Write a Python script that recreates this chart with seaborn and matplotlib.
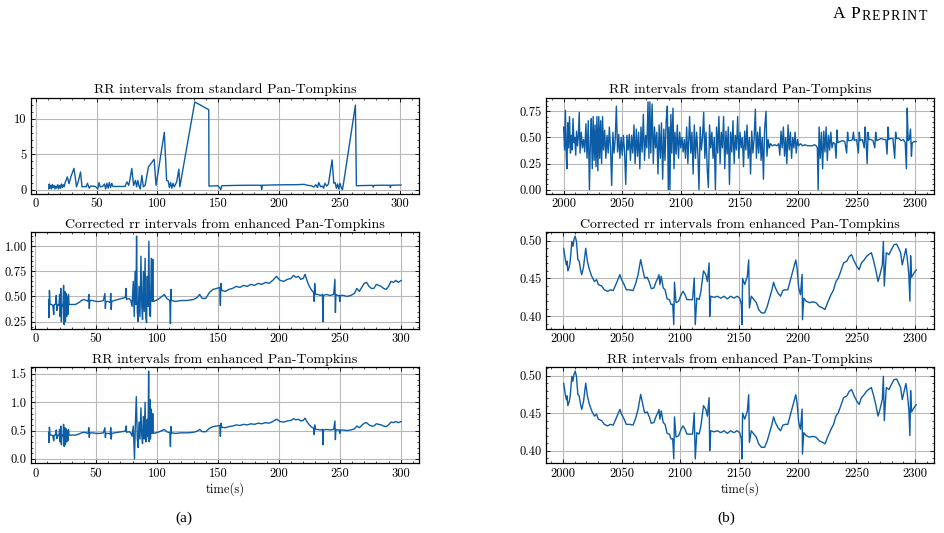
import matplotlib
matplotlib.use("Agg")
import matplotlib.pyplot as plt
import seaborn as sns
from matplotlib.text import Annotation
from matplotlib.ticker import MultipleLocator, AutoMinorLocator

# (a) 0-300 s, RR intervals from standard Pan-Tompkins
t_std_a = [
    10.5, 11.0, 11.6, 12.2, 12.9, 13.5, 14.2, 15.0, 15.7, 16.4,
    17.2, 18.0, 18.8, 19.5, 20.3, 21.0, 21.8, 22.5, 23.3, 24.0,
    25.9, 27.3, 29.0, 31.4, 33.5, 35.0, 36.8, 38.0, 40.0, 41.5,
    42.5, 44.0, 45.0, 47.0, 49.0, 51.0, 52.0, 53.0, 55.0, 56.5,
    57.5, 58.5, 59.5, 60.5, 61.5, 62.5, 63.5, 66.0, 70.0, 73.5,
    75.0, 76.5, 77.5, 79.0, 80.5, 82.0, 83.0, 84.0, 85.0, 86.0,
    87.3, 88.5, 90.0, 92.7, 97.4, 99.0, 105.8, 107.7, 109.0, 110.0,
    111.0, 112.0, 113.0, 114.0, 116.0, 117.8, 118.6, 130.9, 142.4, 142.6,
    150.0, 152.4, 153.0, 165.0, 175.0, 185.5, 186.0, 186.5, 200.0, 215.0,
    220.9, 224.0, 227.0, 229.0, 230.5, 232.0, 233.0, 234.5, 236.0, 237.0,
    238.0, 239.5, 241.0, 244.0, 245.4, 246.5, 247.5, 248.5, 249.5, 250.5,
    251.5, 252.5, 253.5, 263.2, 264.0, 270.0, 277.5, 278.0, 278.5, 285.0,
    291.5, 292.0, 292.5, 301.0,
]
rr_std_a = [
    0.1, 0.8, 0.2, 0.6, 0.1, 0.7, 0.3, 0.6, 0.1, 0.5,
    0.2, 0.7, 0.1, 0.6, 0.2, 0.8, 0.3, 0.7, 0.4, 0.9,
    1.8, 0.85, 1.9, 3.0, 0.4, 1.2, 2.5, 0.4, 0.45, 0.4,
    0.9, 0.2, 0.5, 0.5, 0.45, 0.1, 1.0, 0.4, 0.45, 0.8,
    0.1, 0.9, 0.2, 1.0, 0.3, 0.9, 0.45, 0.45, 0.45, 0.45,
    1.1, 0.6, 1.4, 3.0, 0.6, 1.3, 0.4, 1.3, 0.5, 0.1,
    2.0, 0.4, 0.6, 3.2, 4.3, 0.6, 8.1, 1.3, 1.2, 0.3,
    1.0, 0.2, 0.9, 0.4, 1.1, 2.9, 0.4, 12.4, 11.3, 0.5,
    0.55, 0.0, 0.55, 0.6, 0.62, 0.62, 0.05, 0.62, 0.68, 0.7,
    0.75, 0.6, 0.55, 0.35, 0.7, 0.3, 1.0, 0.4, 0.5, 0.2,
    0.9, 0.5, 0.8, 4.2, 0.9, 1.0, 0.2, 0.8, 0.1, 0.9,
    0.3, 0.0, 1.0, 11.95, 0.55, 0.58, 0.6, 0.35, 0.6, 0.62,
    0.62, 0.3, 0.62, 0.65,
]

# (a) corrected rr intervals from enhanced Pan-Tompkins
t_corr_a = [
    11.0, 11.3, 11.7, 12.2, 13.5, 14.5, 15.2, 15.6, 16.8, 17.3,
    17.8, 18.5, 19.5, 20.0, 20.5, 21.0, 21.5, 22.0, 22.8, 23.3,
    23.8, 24.3, 24.8, 25.3, 25.8, 26.3, 26.8, 27.3, 27.8, 30.0,
    33.0, 36.0, 38.0, 40.0, 42.0, 43.5, 44.0, 44.4, 44.8, 47.0,
    50.0, 53.0, 56.0, 57.2, 57.6, 58.0, 60.0, 61.6, 62.0, 62.4,
    62.8, 65.0, 68.0, 71.0, 74.0, 74.6, 75.0, 77.0, 78.5, 79.5,
    80.5, 81.3, 82.0, 82.7, 83.2, 83.8, 84.5, 85.2, 86.0, 86.8,
    87.5, 88.1, 88.8, 89.5, 90.2, 90.8, 91.4, 92.0, 92.6, 93.3,
    93.9, 94.6, 95.3, 96.0, 96.5, 97.0, 99.0, 102.0, 104.0, 106.0,
    108.0, 110.5, 111.0, 111.4, 111.8, 115.0, 120.0, 125.0, 130.0, 133.0,
    135.0, 137.0, 140.0, 143.0, 146.0, 149.0, 151.5, 152.0, 152.4, 153.0,
    156.0, 159.0, 162.0, 165.0, 168.0, 171.0, 174.0, 177.0, 180.0, 183.0,
    186.0, 189.0, 192.0, 195.0, 198.0, 201.0, 204.0, 207.0, 210.0, 212.0,
    214.0, 216.0, 218.0, 220.0, 221.5, 223.0, 225.0, 227.0, 228.5, 229.0,
    229.4, 230.0, 232.0, 234.0, 235.8, 236.2, 236.6, 239.0, 242.0, 245.0,
    246.0, 246.4, 246.8, 248.0, 249.6, 250.0, 250.4, 253.0, 256.0, 259.0,
    262.0, 264.0, 266.0, 268.0, 270.0, 272.0, 274.0, 276.0, 278.0, 280.0,
    282.0, 284.0, 286.0, 288.0, 290.0, 292.0, 294.0, 296.0, 298.0, 300.5,
]
rr_corr_a = [
    0.47, 0.29, 0.56, 0.42, 0.42, 0.41, 0.32, 0.42, 0.42, 0.51,
    0.36, 0.42, 0.41, 0.52, 0.30, 0.58, 0.25, 0.42, 0.40, 0.61,
    0.22, 0.55, 0.25, 0.53, 0.30, 0.50, 0.32, 0.52, 0.42, 0.42,
    0.42, 0.44, 0.46, 0.47, 0.46, 0.45, 0.52, 0.38, 0.46, 0.46,
    0.45, 0.45, 0.46, 0.53, 0.38, 0.45, 0.45, 0.44, 0.53, 0.37,
    0.45, 0.46, 0.47, 0.48, 0.49, 0.58, 0.47, 0.48, 0.46, 0.40,
    0.65, 0.30, 0.75, 0.42, 1.10, 0.35, 0.25, 0.60, 0.30, 0.90,
    0.40, 0.27, 0.75, 0.35, 0.88, 0.30, 0.24, 0.70, 0.40, 1.05,
    0.32, 0.30, 0.88, 0.45, 0.87, 0.45, 0.46, 0.48, 0.50, 0.52,
    0.48, 0.46, 0.23, 0.57, 0.46, 0.45, 0.46, 0.46, 0.47, 0.49,
    0.52, 0.48, 0.48, 0.54, 0.57, 0.58, 0.59, 0.41, 0.63, 0.56,
    0.55, 0.57, 0.58, 0.60, 0.59, 0.61, 0.60, 0.62, 0.61, 0.63,
    0.62, 0.64, 0.63, 0.66, 0.70, 0.66, 0.65, 0.67, 0.68, 0.71,
    0.69, 0.70, 0.67, 0.68, 0.72, 0.66, 0.60, 0.56, 0.54, 0.45,
    0.63, 0.52, 0.52, 0.51, 0.52, 0.25, 0.51, 0.52, 0.51, 0.52,
    0.67, 0.34, 0.52, 0.51, 0.51, 0.45, 0.51, 0.51, 0.50, 0.51,
    0.53, 0.58, 0.55, 0.59, 0.63, 0.64, 0.60, 0.58, 0.58, 0.62,
    0.61, 0.60, 0.58, 0.57, 0.60, 0.65, 0.64, 0.66, 0.64, 0.66,
]

# (a) RR intervals from enhanced Pan-Tompkins
t_enh_a = [
    11.0, 11.3, 11.7, 12.2, 13.5, 14.5, 15.2, 15.6, 16.8, 17.3,
    17.8, 18.5, 19.5, 20.0, 20.5, 21.0, 21.5, 22.0, 22.8, 23.3,
    23.8, 24.3, 24.8, 25.3, 25.8, 26.3, 26.8, 27.3, 27.8, 30.0,
    33.0, 36.0, 38.0, 40.0, 42.0, 43.5, 44.0, 44.4, 44.8, 47.0,
    50.0, 53.0, 56.0, 57.2, 57.6, 58.0, 60.0, 61.6, 62.0, 62.4,
    62.8, 65.0, 68.0, 71.0, 74.0, 74.6, 75.0, 77.0, 78.5, 79.5,
    80.5, 81.5, 82.2, 83.0, 83.8, 84.5, 85.2, 86.0, 86.8, 87.5,
    88.1, 88.8, 89.5, 90.2, 90.8, 91.4, 92.0, 92.6, 93.1, 93.6,
    94.1, 94.6, 95.3, 96.0, 96.5, 97.0, 99.0, 102.0, 104.0, 106.0,
    108.0, 110.5, 111.0, 111.4, 111.8, 115.0, 120.0, 125.0, 130.0, 133.0,
    135.0, 137.0, 140.0, 143.0, 146.0, 149.0, 151.5, 152.0, 152.4, 153.0,
    156.0, 159.0, 162.0, 165.0, 168.0, 171.0, 174.0, 177.0, 180.0, 183.0,
    186.0, 189.0, 192.0, 195.0, 198.0, 201.0, 204.0, 207.0, 210.0, 212.0,
    214.0, 216.0, 218.0, 220.0, 221.5, 223.0, 225.0, 227.0, 228.5, 229.0,
    229.4, 230.0, 232.0, 234.0, 235.8, 236.2, 236.6, 239.0, 242.0, 245.0,
    246.0, 246.4, 246.8, 248.0, 249.6, 250.0, 250.4, 253.0, 256.0, 259.0,
    262.0, 264.0, 266.0, 268.0, 270.0, 272.0, 274.0, 276.0, 278.0, 280.0,
    282.0, 284.0, 286.0, 288.0, 290.0, 292.0, 294.0, 296.0, 298.0, 300.5,
]
rr_enh_a = [
    0.47, 0.29, 0.56, 0.42, 0.42, 0.41, 0.32, 0.42, 0.42, 0.51,
    0.36, 0.42, 0.41, 0.52, 0.30, 0.58, 0.25, 0.42, 0.40, 0.61,
    0.22, 0.55, 0.25, 0.53, 0.30, 0.50, 0.32, 0.52, 0.42, 0.42,
    0.42, 0.44, 0.46, 0.47, 0.46, 0.45, 0.55, 0.38, 0.46, 0.46,
    0.45, 0.45, 0.46, 0.55, 0.38, 0.45, 0.45, 0.44, 0.55, 0.35,
    0.45, 0.46, 0.47, 0.48, 0.49, 0.58, 0.47, 0.48, 0.46, 0.40,
    0.58, 0.00, 0.60, 1.10, 0.35, 0.20, 0.65, 0.35, 0.90, 0.40,
    0.27, 0.75, 0.35, 1.00, 0.30, 0.35, 0.70, 0.40, 1.55, 0.30,
    1.05, 0.35, 0.88, 0.45, 0.80, 0.45, 0.46, 0.48, 0.50, 0.52,
    0.48, 0.46, 0.22, 0.57, 0.46, 0.45, 0.46, 0.46, 0.47, 0.49,
    0.52, 0.48, 0.48, 0.54, 0.57, 0.58, 0.59, 0.40, 0.63, 0.56,
    0.55, 0.57, 0.58, 0.60, 0.59, 0.61, 0.60, 0.62, 0.61, 0.63,
    0.62, 0.64, 0.63, 0.66, 0.70, 0.66, 0.65, 0.67, 0.68, 0.71,
    0.69, 0.70, 0.67, 0.68, 0.72, 0.66, 0.60, 0.56, 0.54, 0.43,
    0.60, 0.52, 0.52, 0.51, 0.52, 0.25, 0.51, 0.52, 0.51, 0.52,
    0.67, 0.34, 0.52, 0.51, 0.51, 0.45, 0.51, 0.51, 0.50, 0.51,
    0.53, 0.58, 0.55, 0.59, 0.63, 0.64, 0.60, 0.58, 0.58, 0.62,
    0.61, 0.60, 0.58, 0.57, 0.60, 0.65, 0.64, 0.66, 0.64, 0.66,
]

# (b) 2000-2300 s, RR intervals from standard Pan-Tompkins
t_std_b = [
    2000.0, 2000.8, 2001.5, 2002.3, 2002.8, 2003.5, 2004.2, 2005.0, 2005.8, 2006.5,
    2007.3, 2008.0, 2008.8, 2009.5, 2010.3, 2011.0, 2011.8, 2012.5, 2013.3, 2014.0,
    2015.0, 2016.0, 2017.0, 2018.0, 2019.0, 2020.0, 2021.0, 2022.0, 2022.8, 2023.6,
    2024.4, 2025.2, 2026.0, 2026.8, 2027.6, 2028.4, 2029.2, 2030.0, 2030.8, 2031.6,
    2032.4, 2033.2, 2034.0, 2035.0, 2036.0, 2037.0, 2038.0, 2039.0, 2040.0, 2041.0,
    2042.0, 2043.0, 2044.0, 2045.0, 2046.0, 2047.0, 2048.0, 2049.0, 2050.0, 2051.0,
    2052.0, 2053.0, 2054.0, 2055.0, 2056.0, 2057.0, 2058.0, 2059.0, 2060.0, 2061.0,
    2062.0, 2063.0, 2064.0, 2065.0, 2066.0, 2067.0, 2068.0, 2069.0, 2070.0, 2071.0,
    2072.0, 2072.8, 2073.6, 2074.4, 2075.5, 2076.5, 2077.5, 2078.5, 2079.5, 2080.5,
    2081.5, 2082.5, 2083.5, 2084.5, 2085.5, 2086.5, 2087.5, 2088.5, 2089.3, 2090.0,
    2090.7, 2091.5, 2092.3, 2093.3, 2094.2, 2095.0, 2096.0, 2097.0, 2098.0, 2099.0,
    2100.0, 2101.0, 2102.0, 2103.0, 2104.0, 2105.0, 2106.0, 2107.5, 2108.5, 2109.5,
    2110.5, 2111.5, 2112.5, 2113.5, 2114.5, 2115.5, 2116.5, 2117.5, 2118.5, 2119.5,
    2120.5, 2121.5, 2122.5, 2123.5, 2124.5, 2125.5, 2126.5, 2127.5, 2128.5, 2129.5,
    2130.5, 2131.5, 2132.5, 2133.5, 2134.5, 2135.5, 2136.5, 2137.5, 2138.5, 2139.5,
    2140.5, 2141.5, 2142.5, 2143.5, 2144.5, 2145.5, 2146.5, 2147.5, 2148.5, 2149.5,
    2150.5, 2151.5, 2152.5, 2153.5, 2154.5, 2155.5, 2156.5, 2157.5, 2158.5, 2159.5,
    2160.5, 2161.5, 2162.5, 2163.6, 2164.5, 2165.5, 2166.5, 2167.5, 2168.5, 2169.5,
    2170.5, 2171.5, 2172.7, 2173.5, 2174.5, 2175.5, 2176.5, 2178.0, 2180.0, 2182.0,
    2183.5, 2184.5, 2185.5, 2186.5, 2187.5, 2188.5, 2189.5, 2190.5, 2191.5, 2192.5,
    2193.5, 2194.5, 2195.5, 2196.5, 2197.5, 2198.5, 2199.5, 2200.5, 2202.0, 2204.0,
    2206.0, 2208.0, 2210.0, 2212.0, 2214.0, 2215.5, 2216.5, 2217.2, 2218.0, 2219.0,
    2220.0, 2221.0, 2222.0, 2223.0, 2224.0, 2225.0, 2226.0, 2227.0, 2228.0, 2229.0,
    2230.0, 2231.5, 2232.5, 2233.2, 2234.0, 2236.0, 2238.0, 2240.0, 2241.5, 2242.3,
    2243.0, 2245.0, 2246.5, 2247.3, 2248.0, 2250.0, 2251.5, 2252.3, 2253.0, 2255.0,
    2256.5, 2257.3, 2258.0, 2259.0, 2259.8, 2260.5, 2262.0, 2264.0, 2265.5, 2266.3,
    2267.0, 2269.0, 2271.0, 2273.0, 2275.0, 2276.0, 2276.8, 2277.5, 2279.0, 2281.0,
    2282.5, 2283.3, 2284.0, 2286.0, 2288.0, 2290.0, 2291.5, 2292.5, 2293.2, 2294.0,
    2295.0, 2296.0, 2296.8, 2297.5, 2299.0, 2301.0,
]
rr_std_b = [
    0.60, 0.38, 0.76, 0.30, 0.20, 0.64, 0.40, 0.70, 0.35, 0.52,
    0.38, 0.68, 0.45, 0.50, 0.33, 0.56, 0.42, 0.50, 0.74, 0.35,
    0.55, 0.40, 0.48, 0.36, 0.63, 0.30, 0.66, 0.00, 0.45, 0.68,
    0.20, 0.70, 0.28, 0.62, 0.22, 0.70, 0.18, 0.70, 0.30, 0.66,
    0.25, 0.70, 0.38, 0.57, 0.30, 0.52, 0.35, 0.60, 0.40, 0.04,
    0.55, 0.35, 0.48, 0.80, 0.36, 0.53, 0.30, 0.50, 0.33, 0.52,
    0.36, 0.05, 0.52, 0.38, 0.53, 0.28, 0.52, 0.35, 0.62, 0.25,
    0.58, 0.32, 0.55, 0.20, 0.60, 0.36, 0.72, 0.28, 0.52, 0.40,
    0.84, 0.30, 0.84, 0.35, 0.82, 0.25, 0.60, 0.40, 0.55, 0.15,
    0.62, 0.30, 0.64, 0.10, 0.58, 0.28, 0.66, 0.80, 0.00, 0.60,
    0.00, 0.72, 0.35, 0.78, 0.20, 0.55, 0.34, 0.62, 0.30, 0.55,
    0.40, 0.50, 0.36, 0.48, 0.30, 0.60, 0.25, 0.70, 0.35, 0.55,
    0.15, 0.62, 0.30, 0.55, 0.35, 0.00, 0.60, 0.38, 0.50, 0.74,
    0.30, 0.55, 0.20, 0.02, 0.62, 0.40, 0.55, 0.30, 0.50, 0.00,
    0.60, 0.35, 0.70, 0.25, 0.55, 0.40, 0.70, 0.20, 0.56, 0.34,
    0.60, 0.05, 0.55, 0.36, 0.66, 0.25, 0.52, 0.38, 0.70, 0.30,
    0.55, 0.40, 0.50, 0.22, 0.56, 0.38, 0.62, 0.30, 0.50, 0.15,
    0.56, 0.35, 0.48, 0.77, 0.30, 0.55, 0.35, 0.60, 0.28, 0.50,
    0.10, 0.58, 0.75, 0.32, 0.48, 0.40, 0.44, 0.42, 0.43, 0.42,
    0.44, 0.33, 0.56, 0.40, 0.60, 0.32, 0.50, 0.25, 0.62, 0.38,
    0.55, 0.30, 0.50, 0.40, 0.55, 0.35, 0.48, 0.42, 0.44, 0.42,
    0.43, 0.42, 0.42, 0.42, 0.43, 0.42, 0.40, 0.00, 0.60, 0.30,
    0.55, 0.20, 0.56, 0.36, 0.60, 0.28, 0.52, 0.38, 0.55, 0.40,
    0.45, 0.44, 0.30, 0.57, 0.45, 0.46, 0.47, 0.46, 0.35, 0.55,
    0.47, 0.47, 0.48, 0.55, 0.47, 0.48, 0.35, 0.55, 0.47, 0.48,
    0.40, 0.60, 0.48, 0.25, 0.55, 0.48, 0.48, 0.47, 0.40, 0.55,
    0.47, 0.48, 0.49, 0.48, 0.48, 0.34, 0.60, 0.48, 0.49, 0.49,
    0.30, 0.55, 0.49, 0.49, 0.47, 0.48, 0.45, 0.20, 0.78, 0.47,
    0.48, 0.58, 0.32, 0.45, 0.46, 0.46,
]

# (b) enhanced Pan-Tompkins (corrected and raw look the same here)
t_enh_b = [
    2000.6, 2002.0, 2003.0, 2003.4, 2004.2, 2005.3, 2006.2, 2007.6, 2008.5, 2009.3,
    2010.4, 2011.5, 2012.7, 2013.8, 2015.2, 2016.0, 2017.5, 2019.4, 2020.8, 2022.5,
    2024.5, 2026.8, 2028.7, 2030.1, 2033.0, 2035.2, 2038.0, 2040.6, 2042.8, 2045.6,
    2048.5, 2049.9, 2051.8, 2054.0, 2056.9, 2059.7, 2061.7, 2064.0, 2066.2, 2068.2,
    2069.6, 2071.8, 2073.8, 2075.2, 2077.5, 2079.4, 2080.8, 2081.8, 2082.6, 2083.7,
    2085.4, 2087.0, 2088.7, 2090.7, 2092.1, 2093.5, 2094.4, 2095.0, 2096.3, 2098.6,
    2100.6, 2102.3, 2104.0, 2105.6, 2107.6, 2110.4, 2111.8, 2112.7, 2114.0, 2116.0,
    2117.5, 2119.7, 2121.7, 2123.0, 2124.5, 2125.0, 2125.9, 2128.7, 2131.5, 2134.4,
    2137.2, 2140.0, 2142.8, 2145.6, 2148.4, 2150.5, 2152.0, 2152.5, 2153.0, 2154.8,
    2157.0, 2158.2, 2158.8, 2160.4, 2162.7, 2164.7, 2166.7, 2169.0, 2171.8, 2174.0,
    2176.0, 2178.0, 2179.4, 2180.8, 2183.0, 2185.3, 2187.3, 2189.3, 2191.5, 2193.8,
    2195.8, 2197.2, 2198.3, 2199.4, 2200.8, 2202.3, 2203.7, 2204.0, 2205.1, 2207.1,
    2209.9, 2212.7, 2215.5, 2218.4, 2221.2, 2223.2, 2225.4, 2228.3, 2230.5, 2232.5,
    2234.5, 2236.7, 2239.0, 2241.8, 2243.8, 2245.8, 2248.0, 2250.3, 2252.3, 2254.2,
    2256.5, 2258.5, 2260.7, 2262.7, 2264.4, 2266.4, 2268.4, 2270.0, 2272.0, 2272.9,
    2273.7, 2275.4, 2277.7, 2279.7, 2281.9, 2284.2, 2285.9, 2287.6, 2289.0, 2291.0,
    2292.1, 2293.2, 2294.6, 2295.5, 2296.1, 2296.9, 2298.9, 2301.0,
]
rr_enh_b = [
    0.490, 0.475, 0.468, 0.473, 0.460, 0.465, 0.473, 0.499, 0.4925, 0.501,
    0.506, 0.499, 0.475, 0.473, 0.460, 0.455, 0.465, 0.490, 0.473, 0.462,
    0.453, 0.446, 0.4485, 0.442, 0.440, 0.435, 0.433, 0.435, 0.434, 0.444,
    0.455, 0.4485, 0.443, 0.435, 0.435, 0.434, 0.442, 0.455, 0.475, 0.460,
    0.4505, 0.4515, 0.444, 0.4365, 0.4375, 0.446, 0.4505, 0.455, 0.442, 0.453,
    0.4375, 0.435, 0.423, 0.422, 0.4155, 0.416, 0.389, 0.445, 0.418, 0.420,
    0.4285, 0.433, 0.4285, 0.422, 0.422, 0.422, 0.4505, 0.389, 0.424, 0.422,
    0.433, 0.460, 0.455, 0.446, 0.4705, 0.400, 0.4265, 0.425, 0.4265, 0.424,
    0.4265, 0.423, 0.4265, 0.424, 0.4265, 0.424, 0.4155, 0.389, 0.450, 0.442,
    0.4525, 0.4745, 0.411, 0.4265, 0.422, 0.418, 0.409, 0.4045, 0.4045, 0.413,
    0.424, 0.435, 0.445, 0.438, 0.431, 0.4265, 0.434, 0.435, 0.435, 0.4485,
    0.460, 0.468, 0.4745, 0.4635, 0.4375, 0.4285, 0.4555, 0.3955, 0.424, 0.420,
    0.418, 0.419, 0.418, 0.413, 0.411, 0.409, 0.418, 0.4285, 0.435, 0.446,
    0.4505, 0.460, 0.4705, 0.473, 0.479, 0.4815, 0.473, 0.466, 0.4615, 0.4705,
    0.4745, 0.479, 0.482, 0.484, 0.4745, 0.4615, 0.446, 0.455, 0.468, 0.499,
    0.440, 0.484, 0.4815, 0.488, 0.4945, 0.4955, 0.490, 0.484, 0.468, 0.4815,
    0.4895, 0.477, 0.455, 0.420, 0.480, 0.4515, 0.457, 0.4615,
]

BLUE = "#0C5DA5"

sns.set_theme(style="ticks")
plt.rcParams["font.family"] = ["cmr10", "DejaVu Serif"]
plt.rcParams.update({
    "axes.formatter.use_mathtext": False,
    "text.color": "black",
    "axes.labelcolor": "black",
    "axes.titlecolor": "black",
    "axes.linewidth": 0.9,
    "axes.edgecolor": "black",
    "xtick.direction": "in",
    "ytick.direction": "in",
    "xtick.top": True,
    "ytick.right": True,
    "xtick.major.size": 3,
    "ytick.major.size": 3,
    "xtick.minor.size": 1.5,
    "ytick.minor.size": 1.5,
    "xtick.major.width": 0.6,
    "ytick.major.width": 0.6,
    "xtick.minor.width": 0.5,
    "ytick.minor.width": 0.5,
    "xtick.color": "black",
    "ytick.color": "black",
    "xtick.labelsize": 9,
    "ytick.labelsize": 9,
    "xtick.major.pad": 3,
    "ytick.major.pad": 3,
})

fig = plt.figure(figsize=(9.44, 5.33), dpi=100)

left_x, right_x, width = 0.0328, 0.5784, 0.411
rows = [(0.636, 0.181), (0.3827, 0.1826), (0.1308, 0.1812)]

panels = [
    (left_x, 0, t_std_a, rr_std_a, "RR intervals from standard Pan-Tompkins", 50, 5),
    (left_x, 1, t_corr_a, rr_corr_a, "Corrected rr intervals from enhanced Pan-Tompkins", 50, 0.25),
    (left_x, 2, t_enh_a, rr_enh_a, "RR intervals from enhanced Pan-Tompkins", 50, 0.5),
    (right_x, 0, t_std_b, rr_std_b, "RR intervals from standard Pan-Tompkins", 50, 0.25),
    (right_x, 1, t_enh_b, rr_enh_b, "Corrected rr intervals from enhanced Pan-Tompkins", 50, 0.05),
    (right_x, 2, t_enh_b, rr_enh_b, "RR intervals from enhanced Pan-Tompkins", 50, 0.05),
]

for x0, row, t, rr, title, xstep, ystep in panels:
    y0, h = rows[row]
    ax = fig.add_axes([x0, y0, width, h])
    sns.lineplot(x=t, y=rr, ax=ax, color=BLUE, linewidth=1.0,
                 estimator=None, sort=False)
    ax.set_title(title, fontsize=10, pad=3)
    ax.xaxis.set_major_locator(MultipleLocator(xstep))
    ax.yaxis.set_major_locator(MultipleLocator(ystep))
    ax.xaxis.set_minor_locator(AutoMinorLocator())
    ax.yaxis.set_minor_locator(AutoMinorLocator())
    ax.tick_params(which="both", top=True, right=True, direction="in")
    ax.grid(True, which="major", color="#b8b8b8", linewidth=0.8)
    ax.set_axisbelow(True)
    ax.set_ylabel("")
    ax.set_xlabel("time(s)" if row == 2 else "", fontsize=9, labelpad=2)

# page header "A Preprint" in small caps, built letter by letter
prev = fig.text(833 / 944, 1 - 18.5 / 533, "A", ha="left", va="baseline",
                fontsize=12.5, family="Liberation Serif")
for i, ch in enumerate("PREPRINT"):
    gap = 3.4 if i == 0 else 0.9
    prev = fig.add_artist(Annotation(ch, xy=(1, 0), xycoords=prev,
                                     xytext=(gap, 0), textcoords="offset points",
                                     ha="left", va="bottom",
                                     fontsize=12.5 if i == 0 else 10,
                                     family="Liberation Serif"))

fig.text(184 / 944, 1 - 518 / 533, "(a)", ha="center", va="center",
         fontsize=11, family="Liberation Serif")
fig.text(726 / 944, 1 - 518 / 533, "(b)", ha="center", va="center",
         fontsize=11, family="Liberation Serif")

fig.savefig("out.png", dpi=100)
